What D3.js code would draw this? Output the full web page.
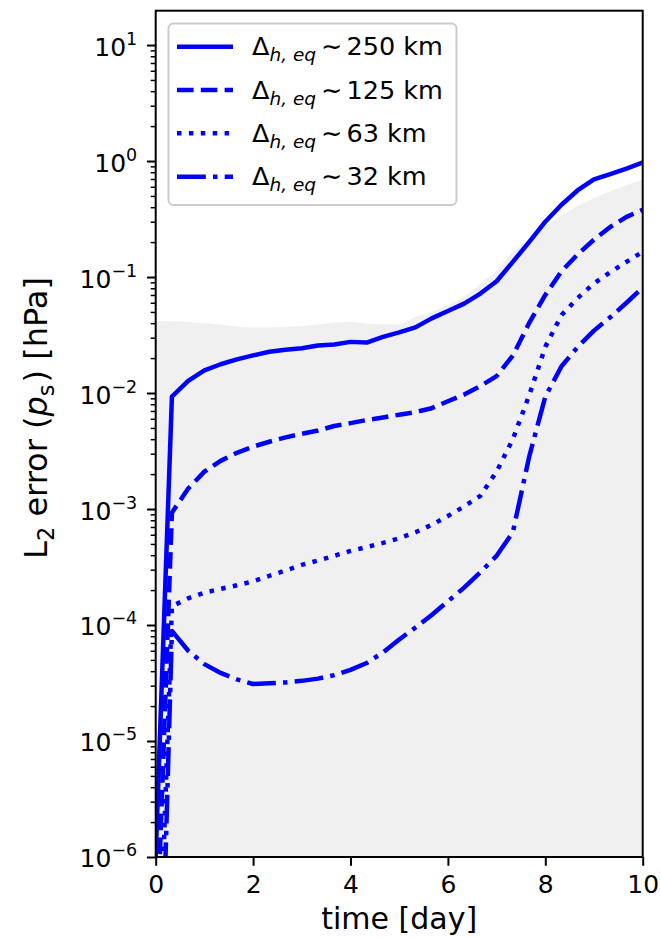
<html>
<head>
<title>L2 error ps</title>
<meta charset="utf-8">
<style type="text/css">
body { margin: 0; background: #fff; }
text { font-family: "DejaVu Sans", sans-serif; fill: #000; }
</style>
</head>
<body>
<script src="https://d3js.org/d3.v7.min.js"></script>
<script>

// time axis, one sample every 8 hours
var days = [0, 0.333, 0.667, 1, 1.333, 1.667, 2, 2.333, 2.667, 3, 3.333, 3.667,
            4, 4.333, 4.667, 5, 5.333, 5.667, 6, 6.333, 6.667, 7, 7.333, 7.667,
            8, 8.333, 8.667, 9, 9.333, 9.667, 10];

// L2 error of ps [hPa] per resolution
var err250 = [1.0e-6, 0.0093, 0.0127, 0.0157, 0.0177, 0.0195, 0.0211, 0.0227, 0.0236, 0.0243, 0.0257, 0.0262,
              0.0276, 0.0272, 0.0305, 0.0333, 0.0368, 0.044, 0.051, 0.059, 0.072, 0.092, 0.135, 0.2,
              0.3, 0.42, 0.56, 0.695, 0.77, 0.86, 0.97];
var err125 = [1.0e-7, 9.3e-4, 1.5e-3, 2.1e-3, 2.6e-3, 3.05e-3, 3.45e-3, 3.8e-3, 4.15e-3, 4.45e-3, 4.75e-3, 5.2e-3,
              5.5e-3, 5.85e-3, 6.15e-3, 6.5e-3, 6.85e-3, 7.4e-3, 8.5e-3, 9.7e-3, 0.0115, 0.014, 0.021, 0.04,
              0.07, 0.112, 0.157, 0.21, 0.27, 0.33, 0.38];
var err63 = [1.0e-8, 1.45e-4, 1.7e-4, 1.9e-4, 2.05e-4, 2.2e-4, 2.38e-4, 2.65e-4, 2.95e-4, 3.3e-4, 3.6e-4, 3.95e-4,
             4.35e-4, 4.7e-4, 5.1e-4, 5.6e-4, 6.3e-4, 7.3e-4, 8.7e-4, 1.05e-3, 1.3e-3, 2.1e-3, 4.0e-3, 9.5e-3,
             0.025, 0.047, 0.066, 0.088, 0.11, 0.135, 0.165];
var err32 = [1.0e-9, 8.9e-5, 6.0e-5, 4.6e-5, 3.86e-5, 3.4e-5, 3.1e-5, 3.15e-5, 3.2e-5, 3.3e-5, 3.45e-5, 3.7e-5,
             4.1e-5, 4.7e-5, 5.8e-5, 7.5e-5, 9.5e-5, 1.22e-4, 1.6e-4, 2.1e-4, 2.85e-4, 3.95e-4, 6.3e-4, 2.8e-3,
             9.3e-3, 0.017, 0.025, 0.0345, 0.045, 0.06, 0.081];

// upper edge of the grey shaded band
var band = [0.0418, 0.0415, 0.041, 0.0401, 0.0389, 0.0373, 0.0366, 0.0367, 0.0373, 0.0379, 0.0389, 0.0405,
            0.0412, 0.0397, 0.0389, 0.0389, 0.0452, 0.0499, 0.0574, 0.0673, 0.087, 0.113, 0.164, 0.213,
            0.275, 0.342, 0.409, 0.48, 0.55, 0.62, 0.695];

var labels = ["250 km", "125 km", "63 km", "32 km"];
var xTicks = [0, 2, 4, 6, 8, 10];
var yExp = [-6, -5, -4, -3, -2, -1, 0, 1];

var series = [err250, err125, err63, err32];
var dashes = ["none", "16.6,7.2", "4.5,7.4", "28.8,7.2,4.5,7.2"];

var margin = {top: 10.7, right: 18.3, bottom: 81, left: 155.7},
    width = 661 - margin.left - margin.right,
    height = 938 - margin.top - margin.bottom;

var x = d3.scaleLinear().domain([0, 10]).range([0, width]);
var y = d3.scaleLog().domain([1e-6, Math.pow(10, 1.296)]).range([height, 0]);

var svg = d3.select("body").append("svg")
    .attr("width", 661)
    .attr("height", 938)
    .append("g")
    .attr("transform", "translate(" + margin.left + "," + margin.top + ")");

svg.append("clipPath").attr("id", "plot")
  .append("rect").attr("width", width).attr("height", height);

var pts = days.map(function(d, i) { return {t: d, i: i}; });

// grey band
var area = d3.area()
    .x(function(d) { return x(d.t); })
    .y0(height)
    .y1(function(d) { return y(band[d.i]); });
svg.append("path")
    .datum(pts)
    .attr("clip-path", "url(#plot)")
    .attr("d", area)
    .style("fill", "#f0f0f0");

// error curves
series.forEach(function(s, k) {
  var line = d3.line()
      .x(function(d) { return x(d.t); })
      .y(function(d) { return y(s[d.i]); });
  svg.append("path")
      .datum(pts)
      .attr("clip-path", "url(#plot)")
      .attr("d", line)
      .style("fill", "none")
      .style("stroke", "#0000ff")
      .style("stroke-width", 4.5)
      .style("stroke-linejoin", "round")
      .style("stroke-linecap", k == 0 ? "square" : "butt")
      .style("stroke-dasharray", dashes[k]);
});

// x axis
var xa = svg.append("g")
    .attr("transform", "translate(0," + height + ")")
    .call(d3.axisBottom(x).tickValues(xTicks).tickSize(8.75).tickPadding(9.5).tickFormat(d3.format("d")));
xa.select(".domain").remove();
xa.selectAll("line").style("stroke-width", 2);
xa.selectAll("text").style("font-size", "25px").attr("font-family", null);

// y axis, major + minor ticks
var minor = [];
yExp.slice(0, -1).forEach(function(e) {
  for (var m = 2; m < 10; m++) minor.push(m * Math.pow(10, e));
});
minor.push(2e1);
minor = minor.filter(function(v) { return v <= y.domain()[1]; });

var ym = svg.append("g")
    .call(d3.axisLeft(y).tickValues(minor).tickSize(5).tickFormat(""));
ym.select(".domain").remove();
ym.selectAll("line").style("stroke-width", 1.5);

var ya = svg.append("g")
    .call(d3.axisLeft(y).tickValues(yExp.map(function(e) { return Math.pow(10, e); }))
      .tickSize(8.75).tickFormat(""));
ya.select(".domain").remove();
ya.selectAll("line").style("stroke-width", 2);

yExp.forEach(function(e) {
  var t = svg.append("text")
      .attr("x", -18.5)
      .attr("y", y(Math.pow(10, e)) + 10.5)
      .attr("text-anchor", "end")
      .style("font-size", "25px");
  t.append("tspan").text("10");
  t.append("tspan").attr("dy", -11).style("font-size", "17.5px")
      .text(e < 0 ? "\u2212" + (-e) : e);
});

// frame
svg.append("rect")
    .attr("width", width).attr("height", height)
    .style("fill", "none").style("stroke", "#000").style("stroke-width", 2);

// axis labels
svg.append("text")
    .attr("text-anchor", "middle")
    .attr("x", width / 2)
    .attr("y", height + 72)
    .style("font-size", "30px")
    .text("time [day]");

var yl = svg.append("text")
    .attr("text-anchor", "middle")
    .attr("transform", "translate(" + (47 - margin.left) + "," + (418 - margin.top) + ") rotate(-90)")
    .style("font-size", "32px");
yl.append("tspan").text("L");
yl.append("tspan").attr("dy", 7).style("font-size", "22.5px").text("2");
yl.append("tspan").attr("dy", -7).text(" error (");
yl.append("tspan").style("font-style", "italic").text("p");
yl.append("tspan").attr("dy", 7).style("font-size", "22.5px").text("s");
yl.append("tspan").attr("dy", -7).attr("dx", 2).text(") [hPa]");

// legend
var lg = svg.append("g").attr("transform", "translate(" + (-margin.left) + "," + (-margin.top) + ")");
lg.append("rect")
    .attr("x", 168.5).attr("y", 23.5)
    .attr("width", 288).attr("height", 181.5)
    .attr("rx", 5)
    .style("fill", "#fff").style("fill-opacity", 0.8)
    .style("stroke", "#cccccc").style("stroke-width", 2);

labels.forEach(function(l, k) {
  var ly = 46.7 + k * 43.33;
  lg.append("line")
      .attr("x1", 177).attr("x2", 233)
      .attr("y1", ly).attr("y2", ly)
      .style("stroke", "#0000ff")
      .style("stroke-width", 4.5)
      .style("stroke-dasharray", dashes[k]);
  var t = lg.append("text")
      .attr("x", 252)
      .attr("y", ly + 8.5)
      .style("font-size", "25.5px");
  t.append("tspan").text("\u0394");
  t.append("tspan").attr("dy", 6).style("font-size", "18.5px").style("font-style", "italic").text("h, eq");
  t.append("tspan").attr("dy", -6).attr("dx", 5).text("\u223c");
  t.append("tspan").attr("dx", 4).text(l);
});

</script>
</body>
</html>
